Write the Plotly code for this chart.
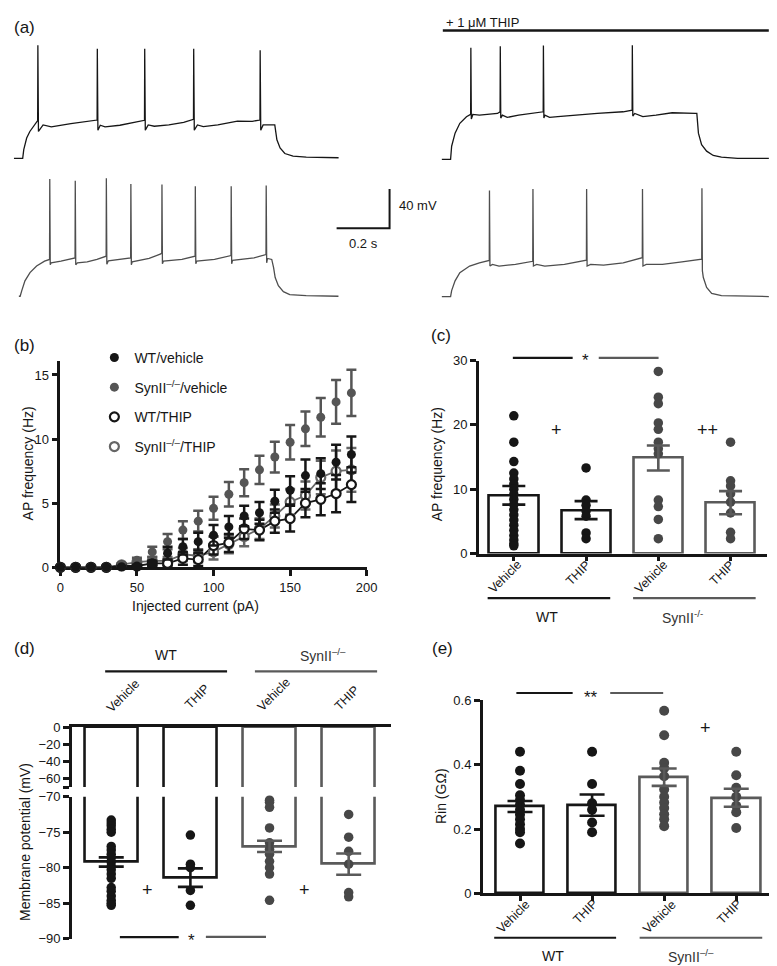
import plotly.graph_objects as go

W, H = 777, 966
FONT = "Liberation Sans, Arial, Helvetica, sans-serif"
BLACK = "#161616"
GREY = "#5a5a5a"
GREY_DOT = "#474747"
GREY_TXT = "#333333"


def fx(p):
    return p / W


def fy(p):
    return 1 - p / H


# ===================== DATA =====================
# (a) example voltage traces: (time in ms from trace start, depolarisation in mV from rest)
TRACE_WT_VEH = [(0, 0), (33, 0), (37, 9), (48, 20.7), (60, 27.4), (79, 34), (89.5, 38.4),
                (90.3, 115), (92.5, 27.4), (110, 34), (141, 32), (215, 35.4), (289, 37.7), (314, 39),
                (314.8, 111.4), (317, 28.7), (326, 33.7), (344, 32), (400, 33.7), (456, 36.4), (493, 38.7),
                (493.8, 111.4), (496, 28.7), (507, 34), (530, 32.7), (585, 34), (641, 36.7), (678, 39.7),
                (678.8, 111.4), (681, 28.7), (693, 34), (715, 32.4), (770, 34), (844, 38), (900, 37.7), (929, 39),
                (929.8, 110), (932, 28.7), (941, 34), (985, 34), (993, 19), (1005, 10.7), (1023, 5),
                (1054, 2.4), (1104, 1.4), (1226, 0.7)]
TRACE_SYN_VEH = [(0, 0), (4.8, 0), (11, 5.7), (23, 15.7), (42, 24), (67, 30.7), (97, 35.7), (115.9, 37.4),
                 (116.7, 119), (118.5, 32), (122, 34), (159, 35.7), (212.2, 39),
                 (213, 117.4), (214.8, 32), (221, 34), (258, 35), (295, 37.4), (329.6, 40.7),
                 (330.4, 120), (332.2, 32.5), (338, 36), (381, 37.4), (422.2, 39),
                 (423, 114), (424.8, 32), (428, 35), (492, 38.4), (536, 43), (539.6, 44),
                 (540.4, 113.4), (542.2, 33), (546, 35.7), (616, 37.4), (665.6, 40.7),
                 (666.4, 111.7), (668.2, 33), (672, 35.7), (739, 37.4), (801.1, 41.4),
                 (801.9, 111.7), (803.7, 33), (807, 36.4), (888, 39), (933.3, 42.4),
                 (934.1, 112.4), (935.9, 34), (939, 38.4), (955, 37.4), (962, 29), (968, 19),
                 (980, 10.7), (999, 4.7), (1023, 1.7), (1085, 0.7), (1207, 0)]
TRACE_WT_THIP = [(0, 0), (33, 0), (37, 13.4), (50, 26.7), (68, 36.7), (93, 43.4), (108.8, 45.7),
                 (109.6, 113.4), (111.4, 41), (117, 45.7), (142, 45), (210, 46.7), (219.9, 48.4),
                 (220.7, 115), (222.5, 42), (228.5, 45), (247, 42.7), (290, 45), (340, 46.7), (382.8, 48.4),
                 (383.6, 115.7), (385.4, 42), (389, 45), (407, 42.7), (438, 43.4), (500, 45), (587, 46.7),
                 (685, 48.4), (718.6, 50),
                 (719.4, 116), (721.2, 44), (728.5, 46.7), (759, 43.4), (809, 45), (870, 47.4), (957, 46.7),
                 (963, 46.7), (969, 26.7), (981, 15), (1000, 8.4), (1025, 4), (1056, 2.4), (1117, 1),
                 (1235, 1)]
TRACE_SYN_THIP = [(0, 0), (33, 0), (37, 6), (50, 16), (68, 24.3), (105, 31), (142, 34.3), (179.1, 36.7),
                  (179.9, 107.7), (181.7, 31), (191, 32.7), (216, 31), (278, 32.7), (343.3, 35.8),
                  (344.1, 109.3), (345.9, 31), (358, 32.7), (389, 31), (463, 32.7), (546, 37),
                  (546.8, 109.3), (548.6, 31), (562, 32.7), (611, 32), (685, 34.3), (757, 39.5),
                  (757.8, 109.3), (759.6, 31), (772, 32.7), (833, 32.7), (907, 35.3), (981.5, 38),
                  (982.3, 110), (984, 26), (987.6, 19.3), (1000, 9.3), (1019, 3.3), (1056, 1), (1235, 0)]
SCALE_MS = 200
SCALE_MV = 40

# (b) AP frequency vs injected current
CURRENT_PA = [0, 10, 20, 30, 40, 50, 60, 70, 80, 90, 100, 110, 120, 130, 140, 150, 160, 170, 180, 190]
WT_VEH_F = [0, 0, 0, 0, 0.05, 0.1, 0.3, 1.1, 1.6, 2.0, 2.5, 3.15, 4.0, 4.25, 5.15, 6.0, 7.15, 7.3, 8.2, 8.8]
WT_VEH_F_SEM = [0, 0, 0, 0, 0.05, 0.1, 0.2, 0.5, 0.6, 0.7, 0.8, 0.85, 0.8, 0.85, 0.9, 1.1, 1.25, 1.2, 1.35, 1.4]
SYN_VEH_F = [0, 0, 0, 0, 0.2, 0.55, 1.2, 2.0, 2.9, 3.6, 4.6, 5.7, 6.6, 7.6, 8.6, 9.75, 10.8, 11.7, 12.9, 13.6]
SYN_VEH_F_SEM = [0, 0, 0, 0, 0.1, 0.2, 0.4, 0.6, 0.7, 0.8, 0.9, 0.95, 1.05, 1.1, 1.2, 1.35, 1.35, 1.5, 1.7, 1.8]
WT_THIP_F = [0, 0, 0, 0, 0.1, 0.1, 0.3, 0.3, 0.7, 0.6, 1.7, 1.9, 3.0, 2.9, 3.6, 3.8, 5.0, 5.3, 5.75, 6.45]
WT_THIP_F_SEM = [0, 0, 0, 0, 0.05, 0.1, 0.2, 0.2, 0.5, 0.5, 0.7, 0.7, 0.8, 0.8, 0.9, 1.0, 1.1, 1.25, 1.45, 1.35]
SYN_THIP_F = [0, 0, 0, 0, 0.2, 0.4, 0.5, 0.5, 1.0, 0.9, 1.2, 1.8, 2.4, 3.0, 4.0, 5.1, 5.6, 7.0, 7.5, 7.6]
SYN_THIP_F_SEM = [0, 0, 0, 0, 0.1, 0.2, 0.3, 0.3, 0.5, 0.5, 0.6, 0.7, 0.75, 0.8, 0.9, 1.0, 1.1, 1.3, 1.6, 1.7]

# bar-chart categories (c, d, e)
CATEGORIES = ["Vehicle", "THIP", "Vehicle", "THIP"]
CAT_X = [0, 1, 2, 3]

# (c) AP frequency (Hz)
AP_MEAN = [9.05, 6.75, 14.85, 7.9]
AP_SEM = [1.45, 1.4, 1.95, 1.8]
AP_WT_VEH = [21.4, 17.3, 14.3, 12.5, 11.6, 10.8, 10.0, 9.2, 8.4, 7.6, 6.8, 6.0, 5.2, 4.4, 3.6, 2.8, 2.1, 1.5, 1.2]
AP_WT_THIP = [13.3, 8.3, 7.5, 6.6, 5.8, 3.2, 2.3]
AP_SYN_VEH = [28.3, 24.3, 23.3, 20.3, 19.3, 17.3, 16.3, 15.5, 8.3, 7.3, 5.3, 2.3]
AP_SYN_THIP = [17.3, 11.3, 10.5, 9.3, 8.0, 6.3, 3.3, 2.3]

# (d) Membrane potential (mV)
VM_MEAN = [-79.2, -81.4, -77.0, -79.5]
VM_SEM = [0.65, 1.3, 0.8, 1.5]
VM_WT_VEH = [-73.3, -73.7, -74.1, -74.6, -75.0, -77.0, -77.5, -78.1, -78.6, -79.2, -79.8, -80.3,
             -80.9, -81.5, -82.8, -83.3, -84.0, -84.6, -85.0, -85.3]
VM_WT_THIP = [-75.4, -79.5, -80.0, -83.2, -85.3]
VM_SYN_VEH = [-70.5, -70.8, -71.5, -74.4, -76.5, -77.4, -78.1, -79.1, -80.0, -80.9, -84.6]
VM_SYN_THIP = [-72.5, -75.7, -77.7, -79.5, -83.5, -84.1]

# (e) Input resistance (GOhm)
RIN_MEAN = [0.270, 0.274, 0.361, 0.297]
RIN_SEM = [0.017, 0.033, 0.027, 0.028]
RIN_WT_VEH = [0.44, 0.381, 0.34, 0.305, 0.29, 0.275, 0.26, 0.245, 0.23, 0.215, 0.20, 0.19, 0.155]
RIN_WT_THIP = [0.44, 0.34, 0.28, 0.26, 0.22, 0.19]
RIN_SYN_VEH = [0.567, 0.491, 0.406, 0.389, 0.364, 0.323, 0.30, 0.282, 0.265, 0.246, 0.23, 0.209]
RIN_SYN_THIP = [0.44, 0.367, 0.328, 0.30, 0.272, 0.252, 0.203]

# ===================== FIGURE =====================
fig = go.Figure()
PX_PER_MS = 0.27

# ---- (a) traces ----
trace_layout = [  # (trace, x start px, rest level px, colour)
    (TRACE_WT_VEH, 2.0, 145.7, BLACK),
    (TRACE_SYN_VEH, 7.0, 285.7, "#4e4e4e"),
    (TRACE_WT_THIP, 438.3, 146.7, BLACK),
    (TRACE_SYN_THIP, 438.3, 286.0, "#4e4e4e"),
]
for tr, x0px, restpx, col in trace_layout:
    x0 = x0px / PX_PER_MS
    fig.add_trace(go.Scatter(
        x=[x0 + t for t, v in tr], y=[-restpx + v for t, v in tr],
        mode="lines", line=dict(color=col, width=1.3), xaxis="x", yaxis="y",
        showlegend=False, hoverinfo="skip"))

# scale bar
sb_x = 385 / PX_PER_MS
sb_y = -216.7
fig.add_trace(go.Scatter(x=[sb_x - SCALE_MS, sb_x, sb_x], y=[sb_y, sb_y, sb_y + SCALE_MV],
                         mode="lines", line=dict(color=BLACK, width=2), xaxis="x", yaxis="y",
                         showlegend=False, hoverinfo="skip"))

# ---- (b) ----
fig.add_trace(go.Scatter(x=CURRENT_PA, y=SYN_THIP_F, mode="lines", line=dict(color="#666666", width=1.8),
                         xaxis="x2", yaxis="y2", showlegend=False, hoverinfo="skip", cliponaxis=False))
fig.add_trace(go.Scatter(x=CURRENT_PA, y=WT_THIP_F, mode="lines", line=dict(color=BLACK, width=1.8),
                         xaxis="x2", yaxis="y2", showlegend=False, hoverinfo="skip", cliponaxis=False))

series_b = [
    ("SynII<sup>–/–</sup>/THIP", SYN_THIP_F, SYN_THIP_F_SEM, "#666666", True, 4),
    ("WT/THIP", WT_THIP_F, WT_THIP_F_SEM, BLACK, True, 3),
    ("SynII<sup>–/–</sup>/vehicle", SYN_VEH_F, SYN_VEH_F_SEM, "#555555", False, 2),
    ("WT/vehicle", WT_VEH_F, WT_VEH_F_SEM, BLACK, False, 1),
]
for name, ys, sem, col, open_, rank in series_b:
    marker = dict(size=9, color="white" if open_ else col,
                  line=dict(color=col, width=2.2 if open_ else 0))
    fig.add_trace(go.Scatter(
        x=CURRENT_PA, y=ys, mode="markers", name=name, marker=marker,
        error_y=dict(type="data", array=sem, color=col, thickness=2.5, width=5),
        xaxis="x2", yaxis="y2", legendrank=rank, legendgroup=name, cliponaxis=False))


def bar_panel(xa, ya, means, sems, dots, width, cap, dotsize):
    fig.add_trace(go.Bar(x=CAT_X, y=means, width=width, xaxis=xa, yaxis=ya,
                         marker=dict(color="white", line=dict(color=[BLACK, BLACK, GREY, GREY], width=2.6)),
                         showlegend=False, hoverinfo="skip"))
    dot_cols = [BLACK, BLACK, GREY_DOT, GREY_DOT]
    for i, vals in enumerate(dots):
        fig.add_trace(go.Scatter(x=[CAT_X[i]] * len(vals), y=vals, mode="markers",
                                 marker=dict(size=dotsize, color=dot_cols[i]), xaxis=xa, yaxis=ya,
                                 showlegend=False, hoverinfo="skip", cliponaxis=False))
    for i in range(4):
        fig.add_trace(go.Scatter(x=[CAT_X[i]], y=[means[i]], mode="markers",
                                 marker=dict(size=1, color="rgba(0,0,0,0)"),
                                 error_y=dict(type="data", array=[sems[i]],
                                              color=BLACK if i < 2 else GREY, thickness=2.6, width=cap),
                                 xaxis=xa, yaxis=ya, showlegend=False, hoverinfo="skip"))


# ---- (c) ----
bar_panel("x3", "y3", AP_MEAN, AP_SEM, [AP_WT_VEH, AP_WT_THIP, AP_SYN_VEH, AP_SYN_THIP], 0.68, 11.5, 9.5)

# ---- (d) broken axis: upper (x4,y4) and lower (x5,y5) ----
fig.add_trace(go.Bar(x=CAT_X, y=VM_MEAN, width=0.67, xaxis="x4", yaxis="y4",
                     marker=dict(color="white", line=dict(color=[BLACK, BLACK, GREY, GREY], width=2.6)),
                     showlegend=False, hoverinfo="skip"))
bar_panel("x5", "y5", VM_MEAN, VM_SEM, [VM_WT_VEH, VM_WT_THIP, VM_SYN_VEH, VM_SYN_THIP], 0.67, 12.5, 9.5)

# ---- (e) ----
bar_panel("x6", "y6", RIN_MEAN, RIN_SEM, [RIN_WT_VEH, RIN_WT_THIP, RIN_SYN_VEH, RIN_SYN_THIP], 0.667, 12.5, 10)

# ===================== LAYOUT =====================
common = dict(showline=True, linewidth=2.5, linecolor=BLACK, ticks="outside", ticklen=6, tickwidth=2.5,
              tickcolor=BLACK, showgrid=False, zeroline=False,
              tickfont=dict(family=FONT, size=13, color=BLACK), fixedrange=True)

c_rng = [(476 - 511.7) / 73.67, (770 - 511.7) / 73.67]
d_rng = [(61 - 101.2) / 80.7, (386.7 - 101.2) / 80.7]
e_rng = [(480 - 518) / 73.5, (776.7 - 518) / 73.5]

layout_axes = dict(
    xaxis=dict(domain=[0, 1], range=[0, W / PX_PER_MS], visible=False, anchor="y", fixedrange=True),
    yaxis=dict(domain=[fy(300), 1], range=[-300, 0], visible=False, anchor="x", fixedrange=True),
    xaxis2=dict(common, domain=[fx(49.3), fx(361.7)], range=[0, 200], tickvals=[0, 50, 100, 150, 200],
                anchor="y2", layer="below traces"),
    yaxis2=dict(common, domain=[fy(561), fy(351.7)], range=[0, 16.07], tickvals=[0, 5, 10, 15],
                anchor="x2", layer="below traces"),
    xaxis3=dict(common, domain=[fx(476), fx(770)], range=c_rng, tickvals=CAT_X, showticklabels=False,
                ticklen=5, anchor="y3"),
    yaxis3=dict(common, domain=[fy(547), fy(351)], range=[0, 30], tickvals=[0, 10, 20, 30], anchor="x3"),
    xaxis4=dict(common, domain=[fx(61), fx(386.7)], range=d_rng, tickvals=CAT_X, showticklabels=False,
                ticks="", side="top", anchor="y4"),
    yaxis4=dict(common, domain=[fy(784.3), fy(723.3)], range=[-70, 0], tickvals=[0, -20, -40, -60, -70],
                ticktext=["0", "−20", "−40", "−60", ""], anchor="x4"),
    xaxis5=dict(domain=[fx(61), fx(386.7)], range=d_rng, visible=False, anchor="y5", fixedrange=True),
    yaxis5=dict(common, domain=[fy(938.3), fy(794)], range=[-90, -70], tickvals=[-70, -75, -80, -85, -90],
                anchor="x5"),
    xaxis6=dict(common, domain=[fx(480), fx(776.7)], range=e_rng, tickvals=CAT_X, showticklabels=False,
                ticklen=5, anchor="y6"),
    yaxis6=dict(common, domain=[fy(892.3), fy(696)], range=[0, 0.6], tickvals=[0, 0.2, 0.4, 0.6],
                anchor="x6"),
)


def ann(text, x, y, size=14, angle=0, xanchor="center", color=BLACK):
    return dict(text=text, x=fx(x), y=fy(y), xref="paper", yref="paper", showarrow=False,
                font=dict(family=FONT, size=size, color=color), textangle=angle,
                xanchor=xanchor, yanchor="middle")


annotations = [
    ann("(a)", 0, 12.5, 17, xanchor="left"),
    ann("(b)", 0, 336, 17, xanchor="left"),
    ann("(c)", 425, 326, 17, xanchor="left"),
    ann("(d)", 0, 643, 17, xanchor="left"),
    ann("(e)", 426.7, 643.3, 17, xanchor="left"),
    ann("+ 1 μM THIP", 441, 7.5, 13, xanchor="left"),
    ann("40 mV", 392.5, 194, 13, xanchor="left"),
    ann("0.2 s", 358.3, 232, 13),
    ann("Injected current (pA)", 187.5, 600, 14),
    ann("AP frequency (Hz)", 15.8, 455, 14, angle=-90),
    ann("AP frequency (Hz)", 433, 456.7, 14, angle=-90),
    ann("Membrane potential (mV)", 13.3, 840, 14, angle=-90),
    ann("Rin (GΩ)", 437.5, 793.3, 14, angle=-90),
    ann("*", 585, 351, 17),
    ann("+", 555, 421.7, 18),
    ann("++", 709.3, 421.7, 18),
    ann("WT", 545.8, 611.7, 14),
    ann("SynII<sup>-/-</sup>", 684.2, 611.7, 14, color=GREY_TXT),
    ann("WT", 156.7, 650, 14),
    ann("SynII<sup>–/–</sup>", 317.5, 650, 14, color=GREY_TXT),
    ann("+", 138.3, 888.3, 18),
    ann("+", 298.3, 888.3, 18),
    ann("*", 183.3, 940, 17),
    ann("**", 590, 693, 17),
    ann("+", 707.3, 724, 18),
    ann("WT", 551.7, 956, 14),
    ann("SynII<sup>–/–</sup>", 692.5, 956, 14, color=GREY_TXT),
]

# rotated category labels (centres of their rotated boxes)
cat_label_pos = {
    "c": [(502.5, 570.8), (577.5, 567.0), (651.7, 570.8), (724.2, 567.0)],
    "d": [(113.3, 691.7), (188.3, 692.5), (266.7, 690.8), (341.7, 694.2)],
    "e": [(510.8, 915.8), (584.2, 910.8), (660.0, 915.8), (731.2, 910.8)],
}
for panel, plist in cat_label_pos.items():
    for lab, (x, y) in zip(CATEGORIES, plist):
        annotations.append(ann(lab, x, y, 12.5, angle=-45))


def hline(x0, x1, y, color=BLACK, width=2.2):
    return dict(type="line", xref="paper", yref="paper", x0=fx(x0), x1=fx(x1), y0=fy(y), y1=fy(y),
                line=dict(color=color, width=width))


shapes = [
    hline(439.3, 771.7, 15.7, BLACK, 2.6),
    hline(510.7, 571.7, 348.3), hline(598.3, 659.3, 348.3, GREY),
    hline(485, 610, 592.3), hline(633.3, 758.3, 592.3, GREY),
    hline(95, 219.3, 666.7), hline(247.7, 372.3, 666.7, GREY),
    hline(110, 170, 936.7), hline(197.7, 259, 936.5, GREY),
    hline(514.3, 571.7, 688.7), hline(610, 664, 688.7, GREY),
    hline(491.7, 616, 937.3), hline(640, 765, 937.3, GREY),
]

fig.update_layout(
    width=W, height=H, margin=dict(l=0, r=0, t=0, b=0),
    paper_bgcolor="white", plot_bgcolor="rgba(0,0,0,0)",
    font=dict(family=FONT, size=13, color=BLACK),
    showlegend=True,
    legend=dict(x=fx(84), y=fy(332), xanchor="left", yanchor="top", bgcolor="rgba(0,0,0,0)",
                font=dict(family=FONT, size=14, color=BLACK), tracegroupgap=8.5, traceorder="grouped",
                itemclick=False, itemdoubleclick=False),
    annotations=annotations, shapes=shapes, bargap=0,
    **layout_axes,
)

fig.write_html("out.html")
